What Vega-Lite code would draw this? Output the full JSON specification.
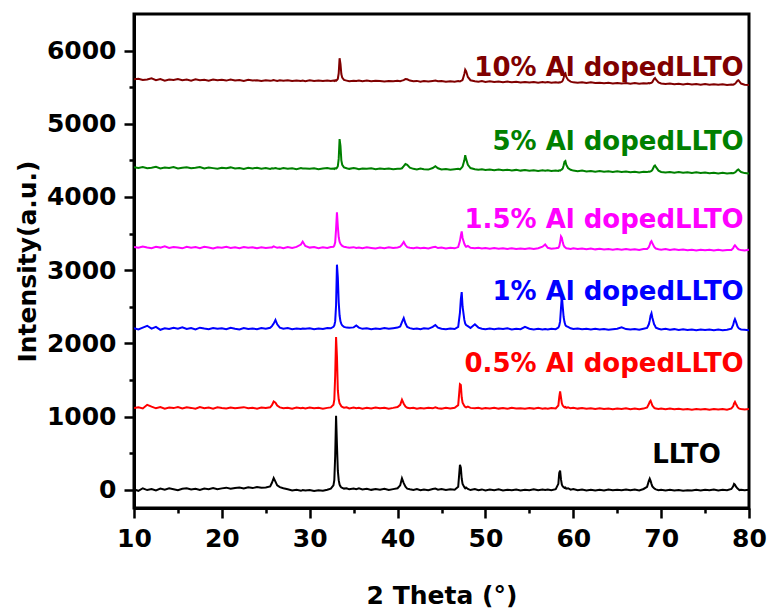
{
"$schema": "https://vega.github.io/schema/vega-lite/v6.json",
"width": 615, "height": 494,
"autosize": "none",
"padding": {"left": 134, "top": 14, "right": 20, "bottom": 107},
"background": "white",
"config": {
  "view": {"stroke": "black", "strokeWidth": 3},
  "font": "DejaVu Sans",
  "axis": {"grid": false, "domainColor": "black", "tickColor": "black", "labelColor": "black", "titleColor": "black", "labelFont": "DejaVu Sans", "titleFont": "DejaVu Sans", "labelFontWeight": "bold", "titleFontWeight": "bold", "labelFontSize": 25, "titleFontSize": 25}
},
"datasets": {
"xrd": [
{"x":10,"LLTO":5,"A05":1115,"A1":2205,"A15":3318,"A5":4405,"A10":5608},
{"x":10.5,"LLTO":-15,"A05":1125,"A1":2190,"A15":3305,"A5":4395,"A10":5615},
{"x":11,"LLTO":20,"A05":1110,"A1":2215,"A15":3322,"A5":4410,"A10":5598},
{"x":11.5,"LLTO":-5,"A05":1160,"A1":2240,"A15":3310,"A5":4392,"A10":5605},
{"x":12,"LLTO":10,"A05":1135,"A1":2200,"A15":3300,"A5":4400,"A10":5620},
{"x":12.5,"LLTO":-10,"A05":1112,"A1":2225,"A15":3318,"A5":4412,"A10":5596},
{"x":13,"LLTO":15,"A05":1128,"A1":2185,"A15":3308,"A5":4390,"A10":5610},
{"x":13.5,"LLTO":0,"A05":1108,"A1":2205,"A15":3325,"A5":4402,"A10":5590},
{"x":14,"LLTO":18,"A05":1122,"A1":2195,"A15":3302,"A5":4395,"A10":5605},
{"x":14.5,"LLTO":5,"A05":1115,"A1":2212,"A15":3316,"A5":4408,"A10":5598},
{"x":15,"LLTO":-8,"A05":1130,"A1":2200,"A15":3310,"A5":4388,"A10":5612},
{"x":15.5,"LLTO":12,"A05":1110,"A1":2218,"A15":3298,"A5":4400,"A10":5595},
{"x":16,"LLTO":20,"A05":1125,"A1":2196,"A15":3320,"A5":4406,"A10":5604},
{"x":16.5,"LLTO":2,"A05":1118,"A1":2208,"A15":3306,"A5":4392,"A10":5590},
{"x":17,"LLTO":14,"A05":1106,"A1":2190,"A15":3315,"A5":4398,"A10":5608},
{"x":17.5,"LLTO":-4,"A05":1128,"A1":2214,"A15":3300,"A5":4410,"A10":5596},
{"x":18,"LLTO":16,"A05":1114,"A1":2202,"A15":3318,"A5":4390,"A10":5602},
{"x":18.5,"LLTO":8,"A05":1122,"A1":2192,"A15":3310,"A5":4402,"A10":5588},
{"x":19,"LLTO":22,"A05":1108,"A1":2210,"A15":3296,"A5":4394,"A10":5606},
{"x":19.5,"LLTO":6,"A05":1126,"A1":2198,"A15":3314,"A5":4386,"A10":5594},
{"x":20,"LLTO":18,"A05":1116,"A1":2206,"A15":3305,"A5":4400,"A10":5600},
{"x":20.5,"LLTO":28,"A05":1110,"A1":2194,"A15":3318,"A5":4392,"A10":5590},
{"x":21,"LLTO":12,"A05":1124,"A1":2212,"A15":3302,"A5":4404,"A10":5604},
{"x":21.5,"LLTO":24,"A05":1112,"A1":2200,"A15":3312,"A5":4388,"A10":5592},
{"x":22,"LLTO":30,"A05":1120,"A1":2190,"A15":3300,"A5":4396,"A10":5598},
{"x":22.5,"LLTO":16,"A05":1128,"A1":2208,"A15":3316,"A5":4384,"A10":5586},
{"x":23,"LLTO":34,"A05":1114,"A1":2196,"A15":3306,"A5":4398,"A10":5600},
{"x":23.5,"LLTO":22,"A05":1120,"A1":2204,"A15":3312,"A5":4390,"A10":5590},
{"x":24,"LLTO":38,"A05":1108,"A1":2192,"A15":3298,"A5":4400,"A10":5596},
{"x":24.5,"LLTO":26,"A05":1124,"A1":2210,"A15":3314,"A5":4386,"A10":5584},
{"x":25,"LLTO":30,"A05":1116,"A1":2200,"A15":3304,"A5":4394,"A10":5594},
{"x":25.5,"LLTO":44,"A05":1126,"A1":2212,"A15":3310,"A5":4382,"A10":5588},
{"x":25.7,"LLTO":95,"A05":1155,"A1":2235,"A15":3310,"A5":4392,"A10":5592},
{"x":25.9,"LLTO":160,"A05":1205,"A1":2270,"A15":3325,"A5":4388,"A10":5598},
{"x":26.1,"LLTO":110,"A05":1190,"A1":2320,"A15":3315,"A5":4396,"A10":5590},
{"x":26.3,"LLTO":60,"A05":1150,"A1":2260,"A15":3306,"A5":4390,"A10":5586},
{"x":26.6,"LLTO":35,"A05":1125,"A1":2215,"A15":3312,"A5":4384,"A10":5594},
{"x":27,"LLTO":20,"A05":1112,"A1":2200,"A15":3300,"A5":4396,"A10":5588},
{"x":27.5,"LLTO":5,"A05":1120,"A1":2208,"A15":3316,"A5":4386,"A10":5596},
{"x":28,"LLTO":-10,"A05":1108,"A1":2194,"A15":3304,"A5":4392,"A10":5584},
{"x":28.5,"LLTO":0,"A05":1122,"A1":2204,"A15":3318,"A5":4380,"A10":5592},
{"x":29,"LLTO":-15,"A05":1112,"A1":2196,"A15":3350,"A5":4394,"A10":5586},
{"x":29.2,"LLTO":-5,"A05":1118,"A1":2202,"A15":3390,"A5":4388,"A10":5590},
{"x":29.5,"LLTO":-12,"A05":1110,"A1":2198,"A15":3330,"A5":4390,"A10":5582},
{"x":30,"LLTO":-5,"A05":1124,"A1":2206,"A15":3308,"A5":4384,"A10":5594},
{"x":30.5,"LLTO":-18,"A05":1114,"A1":2194,"A15":3316,"A5":4392,"A10":5586},
{"x":31,"LLTO":-8,"A05":1120,"A1":2204,"A15":3300,"A5":4380,"A10":5590},
{"x":31.5,"LLTO":-15,"A05":1108,"A1":2196,"A15":3312,"A5":4388,"A10":5584},
{"x":32,"LLTO":0,"A05":1118,"A1":2210,"A15":3304,"A5":4394,"A10":5592},
{"x":32.4,"LLTO":15,"A05":1125,"A1":2205,"A15":3315,"A5":4386,"A10":5586},
{"x":32.7,"LLTO":60,"A05":1160,"A1":2225,"A15":3320,"A5":4390,"A10":5592},
{"x":32.8,"LLTO":130,"A05":1230,"A1":2245,"A15":3335,"A5":4382,"A10":5584},
{"x":32.9,"LLTO":460,"A05":1560,"A1":2300,"A15":3380,"A5":4394,"A10":5594},
{"x":33.0,"LLTO":1010,"A05":2085,"A1":2520,"A15":3560,"A5":4388,"A10":5588},
{"x":33.1,"LLTO":610,"A05":1820,"A1":3075,"A15":3790,"A5":4398,"A10":5596},
{"x":33.2,"LLTO":260,"A05":1360,"A1":2900,"A15":3600,"A5":4420,"A10":5615},
{"x":33.3,"LLTO":130,"A05":1235,"A1":2560,"A15":3450,"A5":4520,"A10":5690},
{"x":33.4,"LLTO":70,"A05":1180,"A1":2380,"A15":3390,"A5":4790,"A10":5895},
{"x":33.5,"LLTO":45,"A05":1160,"A1":2300,"A15":3360,"A5":4700,"A10":5820},
{"x":33.6,"LLTO":30,"A05":1140,"A1":2265,"A15":3345,"A5":4500,"A10":5680},
{"x":33.7,"LLTO":25,"A05":1130,"A1":2245,"A15":3330,"A5":4440,"A10":5630},
{"x":33.9,"LLTO":15,"A05":1120,"A1":2225,"A15":3320,"A5":4405,"A10":5600},
{"x":34.2,"LLTO":20,"A05":1125,"A1":2215,"A15":3312,"A5":4392,"A10":5590},
{"x":34.5,"LLTO":5,"A05":1110,"A1":2212,"A15":3306,"A5":4384,"A10":5580},
{"x":35,"LLTO":15,"A05":1122,"A1":2218,"A15":3314,"A5":4394,"A10":5588},
{"x":35.3,"LLTO":8,"A05":1114,"A1":2245,"A15":3302,"A5":4388,"A10":5584},
{"x":35.6,"LLTO":18,"A05":1120,"A1":2215,"A15":3310,"A5":4380,"A10":5592},
{"x":36,"LLTO":4,"A05":1108,"A1":2198,"A15":3300,"A5":4390,"A10":5582},
{"x":36.5,"LLTO":14,"A05":1118,"A1":2206,"A15":3312,"A5":4384,"A10":5590},
{"x":37,"LLTO":-2,"A05":1110,"A1":2194,"A15":3304,"A5":4392,"A10":5580},
{"x":37.5,"LLTO":10,"A05":1124,"A1":2204,"A15":3296,"A5":4378,"A10":5588},
{"x":38,"LLTO":0,"A05":1114,"A1":2196,"A15":3308,"A5":4388,"A10":5584},
{"x":38.5,"LLTO":12,"A05":1120,"A1":2208,"A15":3300,"A5":4382,"A10":5578},
{"x":39,"LLTO":-4,"A05":1108,"A1":2198,"A15":3312,"A5":4390,"A10":5586},
{"x":39.5,"LLTO":8,"A05":1118,"A1":2206,"A15":3302,"A5":4380,"A10":5580},
{"x":40,"LLTO":20,"A05":1130,"A1":2215,"A15":3310,"A5":4386,"A10":5588},
{"x":40.3,"LLTO":60,"A05":1160,"A1":2230,"A15":3320,"A5":4384,"A10":5582},
{"x":40.5,"LLTO":155,"A05":1230,"A1":2290,"A15":3350,"A5":4392,"A10":5590},
{"x":40.7,"LLTO":90,"A05":1175,"A1":2345,"A15":3385,"A5":4420,"A10":5596},
{"x":40.9,"LLTO":40,"A05":1135,"A1":2270,"A15":3340,"A5":4450,"A10":5612},
{"x":41.1,"LLTO":15,"A05":1120,"A1":2225,"A15":3315,"A5":4440,"A10":5608},
{"x":41.4,"LLTO":5,"A05":1112,"A1":2208,"A15":3305,"A5":4400,"A10":5590},
{"x":41.8,"LLTO":-5,"A05":1120,"A1":2196,"A15":3298,"A5":4384,"A10":5580},
{"x":42.2,"LLTO":8,"A05":1108,"A1":2204,"A15":3310,"A5":4376,"A10":5586},
{"x":42.6,"LLTO":-8,"A05":1116,"A1":2194,"A15":3300,"A5":4388,"A10":5576},
{"x":43,"LLTO":4,"A05":1110,"A1":2206,"A15":3306,"A5":4380,"A10":5584},
{"x":43.5,"LLTO":-6,"A05":1120,"A1":2198,"A15":3296,"A5":4374,"A10":5578},
{"x":44,"LLTO":10,"A05":1112,"A1":2225,"A15":3312,"A5":4395,"A10":5586},
{"x":44.3,"LLTO":15,"A05":1125,"A1":2250,"A15":3318,"A5":4420,"A10":5590},
{"x":44.6,"LLTO":0,"A05":1114,"A1":2215,"A15":3302,"A5":4392,"A10":5580},
{"x":45,"LLTO":8,"A05":1108,"A1":2200,"A15":3308,"A5":4376,"A10":5584},
{"x":45.5,"LLTO":-4,"A05":1118,"A1":2192,"A15":3296,"A5":4382,"A10":5574},
{"x":46,"LLTO":6,"A05":1110,"A1":2204,"A15":3306,"A5":4372,"A10":5582},
{"x":46.5,"LLTO":0,"A05":1120,"A1":2196,"A15":3298,"A5":4380,"A10":5576},
{"x":46.9,"LLTO":40,"A05":1155,"A1":2225,"A15":3315,"A5":4384,"A10":5584},
{"x":47.1,"LLTO":340,"A05":1440,"A1":2420,"A15":3400,"A5":4376,"A10":5578},
{"x":47.2,"LLTO":300,"A05":1430,"A1":2600,"A15":3470,"A5":4388,"A10":5586},
{"x":47.3,"LLTO":150,"A05":1260,"A1":2700,"A15":3530,"A5":4400,"A10":5590},
{"x":47.4,"LLTO":80,"A05":1190,"A1":2500,"A15":3440,"A5":4415,"A10":5600},
{"x":47.6,"LLTO":35,"A05":1145,"A1":2320,"A15":3360,"A5":4500,"A10":5680},
{"x":47.7,"LLTO":20,"A05":1130,"A1":2270,"A15":3335,"A5":4570,"A10":5740},
{"x":47.8,"LLTO":30,"A05":1125,"A1":2250,"A15":3320,"A5":4520,"A10":5720},
{"x":48.0,"LLTO":10,"A05":1135,"A1":2235,"A15":3330,"A5":4440,"A10":5640},
{"x":48.3,"LLTO":-5,"A05":1118,"A1":2210,"A15":3305,"A5":4395,"A10":5595},
{"x":48.8,"LLTO":10,"A05":1112,"A1":2260,"A15":3298,"A5":4380,"A10":5582},
{"x":49.2,"LLTO":-8,"A05":1120,"A1":2215,"A15":3306,"A5":4372,"A10":5576},
{"x":49.6,"LLTO":4,"A05":1108,"A1":2200,"A15":3296,"A5":4378,"A10":5584},
{"x":50,"LLTO":-10,"A05":1116,"A1":2192,"A15":3304,"A5":4368,"A10":5572},
{"x":50.5,"LLTO":2,"A05":1110,"A1":2202,"A15":3294,"A5":4376,"A10":5580},
{"x":51,"LLTO":-6,"A05":1120,"A1":2194,"A15":3302,"A5":4366,"A10":5570},
{"x":51.5,"LLTO":6,"A05":1108,"A1":2204,"A15":3292,"A5":4374,"A10":5578},
{"x":52,"LLTO":-10,"A05":1116,"A1":2196,"A15":3300,"A5":4364,"A10":5568},
{"x":52.5,"LLTO":0,"A05":1106,"A1":2206,"A15":3290,"A5":4372,"A10":5576},
{"x":53,"LLTO":-8,"A05":1118,"A1":2190,"A15":3298,"A5":4362,"A10":5566},
{"x":53.5,"LLTO":4,"A05":1110,"A1":2200,"A15":3288,"A5":4370,"A10":5574},
{"x":54,"LLTO":-12,"A05":1114,"A1":2194,"A15":3296,"A5":4360,"A10":5564},
{"x":54.5,"LLTO":0,"A05":1106,"A1":2225,"A15":3290,"A5":4368,"A10":5572},
{"x":55,"LLTO":-6,"A05":1116,"A1":2200,"A15":3300,"A5":4358,"A10":5564},
{"x":55.5,"LLTO":6,"A05":1108,"A1":2190,"A15":3288,"A5":4366,"A10":5570},
{"x":56,"LLTO":-8,"A05":1118,"A1":2198,"A15":3300,"A5":4356,"A10":5562},
{"x":56.5,"LLTO":2,"A05":1106,"A1":2188,"A15":3320,"A5":4364,"A10":5570},
{"x":56.8,"LLTO":-4,"A05":1114,"A1":2196,"A15":3350,"A5":4358,"A10":5564},
{"x":57.1,"LLTO":4,"A05":1108,"A1":2190,"A15":3305,"A5":4366,"A10":5570},
{"x":57.5,"LLTO":-6,"A05":1116,"A1":2200,"A15":3292,"A5":4356,"A10":5562},
{"x":58,"LLTO":8,"A05":1110,"A1":2194,"A15":3298,"A5":4362,"A10":5568},
{"x":58.3,"LLTO":80,"A05":1150,"A1":2215,"A15":3305,"A5":4356,"A10":5562},
{"x":58.4,"LLTO":230,"A05":1260,"A1":2240,"A15":3325,"A5":4364,"A10":5568},
{"x":58.5,"LLTO":260,"A05":1345,"A1":2300,"A15":3380,"A5":4360,"A10":5564},
{"x":58.6,"LLTO":140,"A05":1260,"A1":2480,"A15":3460,"A5":4368,"A10":5570},
{"x":58.7,"LLTO":70,"A05":1180,"A1":2650,"A15":3440,"A5":4376,"A10":5574},
{"x":58.8,"LLTO":45,"A05":1150,"A1":2500,"A15":3380,"A5":4390,"A10":5590},
{"x":58.9,"LLTO":35,"A05":1135,"A1":2360,"A15":3340,"A5":4430,"A10":5625},
{"x":59.0,"LLTO":25,"A05":1125,"A1":2290,"A15":3320,"A5":4480,"A10":5680},
{"x":59.1,"LLTO":30,"A05":1130,"A1":2250,"A15":3310,"A5":4490,"A10":5690},
{"x":59.2,"LLTO":15,"A05":1118,"A1":2235,"A15":3300,"A5":4440,"A10":5640},
{"x":59.4,"LLTO":20,"A05":1126,"A1":2225,"A15":3296,"A5":4395,"A10":5600},
{"x":59.7,"LLTO":0,"A05":1112,"A1":2205,"A15":3290,"A5":4372,"A10":5576},
{"x":60,"LLTO":8,"A05":1118,"A1":2195,"A15":3300,"A5":4360,"A10":5566},
{"x":60.5,"LLTO":-8,"A05":1108,"A1":2202,"A15":3288,"A5":4352,"A10":5560},
{"x":61,"LLTO":2,"A05":1116,"A1":2192,"A15":3296,"A5":4360,"A10":5568},
{"x":61.5,"LLTO":-10,"A05":1106,"A1":2200,"A15":3286,"A5":4348,"A10":5558},
{"x":62,"LLTO":0,"A05":1114,"A1":2190,"A15":3294,"A5":4356,"A10":5566},
{"x":62.5,"LLTO":-12,"A05":1104,"A1":2198,"A15":3284,"A5":4346,"A10":5556},
{"x":63,"LLTO":-2,"A05":1112,"A1":2188,"A15":3292,"A5":4354,"A10":5562},
{"x":63.5,"LLTO":-10,"A05":1102,"A1":2196,"A15":3282,"A5":4344,"A10":5554},
{"x":64,"LLTO":2,"A05":1110,"A1":2186,"A15":3290,"A5":4352,"A10":5560},
{"x":64.5,"LLTO":-8,"A05":1100,"A1":2194,"A15":3280,"A5":4342,"A10":5552},
{"x":65,"LLTO":0,"A05":1110,"A1":2200,"A15":3288,"A5":4350,"A10":5558},
{"x":65.5,"LLTO":-6,"A05":1102,"A1":2220,"A15":3280,"A5":4340,"A10":5550},
{"x":66,"LLTO":4,"A05":1112,"A1":2195,"A15":3290,"A5":4348,"A10":5558},
{"x":66.5,"LLTO":-8,"A05":1100,"A1":2188,"A15":3278,"A5":4338,"A10":5548},
{"x":67,"LLTO":2,"A05":1108,"A1":2196,"A15":3286,"A5":4346,"A10":5556},
{"x":67.5,"LLTO":-10,"A05":1100,"A1":2186,"A15":3276,"A5":4336,"A10":5546},
{"x":68,"LLTO":10,"A05":1108,"A1":2200,"A15":3288,"A5":4344,"A10":5554},
{"x":68.4,"LLTO":40,"A05":1125,"A1":2210,"A15":3290,"A5":4340,"A10":5550},
{"x":68.6,"LLTO":120,"A05":1170,"A1":2260,"A15":3315,"A5":4348,"A10":5556},
{"x":68.7,"LLTO":150,"A05":1200,"A1":2310,"A15":3345,"A5":4344,"A10":5552},
{"x":68.8,"LLTO":120,"A05":1215,"A1":2380,"A15":3380,"A5":4350,"A10":5558},
{"x":68.9,"LLTO":80,"A05":1185,"A1":2410,"A15":3395,"A5":4356,"A10":5560},
{"x":69.0,"LLTO":45,"A05":1150,"A1":2350,"A15":3370,"A5":4370,"A10":5570},
{"x":69.2,"LLTO":20,"A05":1120,"A1":2260,"A15":3320,"A5":4420,"A10":5615},
{"x":69.3,"LLTO":10,"A05":1112,"A1":2240,"A15":3305,"A5":4430,"A10":5625},
{"x":69.4,"LLTO":5,"A05":1108,"A1":2215,"A15":3295,"A5":4410,"A10":5605},
{"x":69.7,"LLTO":-8,"A05":1104,"A1":2200,"A15":3285,"A5":4360,"A10":5565},
{"x":70,"LLTO":0,"A05":1110,"A1":2190,"A15":3280,"A5":4342,"A10":5550},
{"x":70.5,"LLTO":-10,"A05":1100,"A1":2198,"A15":3288,"A5":4334,"A10":5542},
{"x":71,"LLTO":-2,"A05":1108,"A1":2186,"A15":3276,"A5":4342,"A10":5550},
{"x":71.5,"LLTO":-12,"A05":1098,"A1":2194,"A15":3284,"A5":4332,"A10":5540},
{"x":72,"LLTO":-4,"A05":1106,"A1":2184,"A15":3274,"A5":4340,"A10":5548},
{"x":72.5,"LLTO":-14,"A05":1096,"A1":2192,"A15":3282,"A5":4330,"A10":5538},
{"x":73,"LLTO":-6,"A05":1104,"A1":2182,"A15":3272,"A5":4338,"A10":5546},
{"x":73.5,"LLTO":-12,"A05":1094,"A1":2190,"A15":3280,"A5":4328,"A10":5536},
{"x":74,"LLTO":-2,"A05":1102,"A1":2180,"A15":3270,"A5":4336,"A10":5544},
{"x":74.5,"LLTO":-10,"A05":1096,"A1":2190,"A15":3280,"A5":4326,"A10":5534},
{"x":75,"LLTO":0,"A05":1104,"A1":2182,"A15":3272,"A5":4334,"A10":5542},
{"x":75.5,"LLTO":-8,"A05":1094,"A1":2190,"A15":3280,"A5":4324,"A10":5532},
{"x":76,"LLTO":2,"A05":1102,"A1":2180,"A15":3270,"A5":4332,"A10":5540},
{"x":76.5,"LLTO":-10,"A05":1096,"A1":2188,"A15":3278,"A5":4322,"A10":5532},
{"x":77,"LLTO":-2,"A05":1104,"A1":2178,"A15":3268,"A5":4330,"A10":5540},
{"x":77.5,"LLTO":-8,"A05":1094,"A1":2186,"A15":3276,"A5":4320,"A10":5530},
{"x":78,"LLTO":10,"A05":1110,"A1":2200,"A15":3275,"A5":4328,"A10":5538},
{"x":78.2,"LLTO":45,"A05":1140,"A1":2250,"A15":3300,"A5":4324,"A10":5534},
{"x":78.3,"LLTO":80,"A05":1180,"A1":2300,"A15":3325,"A5":4330,"A10":5540},
{"x":78.4,"LLTO":70,"A05":1200,"A1":2330,"A15":3340,"A5":4336,"A10":5546},
{"x":78.5,"LLTO":45,"A05":1175,"A1":2300,"A15":3325,"A5":4345,"A10":5560},
{"x":78.7,"LLTO":15,"A05":1130,"A1":2230,"A15":3295,"A5":4370,"A10":5590},
{"x":78.8,"LLTO":5,"A05":1115,"A1":2210,"A15":3285,"A5":4375,"A10":5595},
{"x":78.9,"LLTO":-5,"A05":1108,"A1":2200,"A15":3280,"A5":4360,"A10":5580},
{"x":79.1,"LLTO":0,"A05":1102,"A1":2190,"A15":3275,"A5":4340,"A10":5550},
{"x":79.5,"LLTO":-8,"A05":1096,"A1":2186,"A15":3270,"A5":4326,"A10":5534},
{"x":80,"LLTO":-2,"A05":1104,"A1":2180,"A15":3278,"A5":4320,"A10":5530}
],
"labels": [
{"label":"10% Al dopedLLTO","series":"A10","x":79.4,"y":5650},
{"label":"5% Al dopedLLTO","series":"A5","x":79.4,"y":4640},
{"label":"1.5% Al dopedLLTO","series":"A15","x":79.4,"y":3570},
{"label":"1% Al dopedLLTO","series":"A1","x":79.4,"y":2590},
{"label":"0.5% Al dopedLLTO","series":"A05","x":79.4,"y":1610},
{"label":"LLTO","series":"LLTO","x":76.8,"y":360}
]
},
"layer": [
{
  "data": {"name": "xrd"},
  "transform": [{"fold": ["LLTO", "A05", "A1", "A15", "A5", "A10"], "as": ["series", "intensity"]}],
  "mark": {"type": "line", "strokeWidth": 2, "clip": true},
  "encoding": {
    "x": {"field": "x", "type": "quantitative", "scale": {"domain": [10, 80], "nice": false, "zero": false},
          "axis": {"orient": "bottom", "values": [10, 20, 30, 40, 50, 60, 70, 80], "format": "d", "tickSize": 10, "tickWidth": 2.5, "domainWidth": 3, "labelPadding": 8, "labelFlush": false, "labelOverlap": false, "title": "2 Theta (°)", "titlePadding": 32}},
    "y": {"field": "intensity", "type": "quantitative", "scale": {"domain": [-250, 6500], "nice": false, "zero": false},
          "axis": {"orient": "left", "values": [0, 1000, 2000, 3000, 4000, 5000, 6000], "format": "d", "tickSize": 10, "tickWidth": 2.5, "domainWidth": 3, "labelPadding": 8, "labelFlush": false, "labelOverlap": false, "title": "Intensity(a.u.)", "titlePadding": 6}},
    "color": {"field": "series", "type": "nominal", "scale": {"domain": ["LLTO", "A05", "A1", "A15", "A5", "A10"], "range": ["#000000", "#ff0000", "#0000ff", "#ff00ff", "#008000", "#800000"]}, "legend": null}
  }
},
{
  "data": {"name": "labels"},
  "mark": {"type": "text", "align": "right", "baseline": "alphabetic", "fontSize": 26, "fontWeight": "bold", "font": "DejaVu Sans"},
  "encoding": {
    "x": {"field": "x", "type": "quantitative", "axis": {"orient": "bottom", "values": [15, 25, 35, 45, 55, 65, 75], "tickSize": 5, "tickWidth": 2.5, "domain": false, "labels": false, "title": null}},
    "y": {"field": "y", "type": "quantitative", "axis": {"orient": "left", "values": [500, 1500, 2500, 3500, 4500, 5500], "tickSize": 5, "tickWidth": 2.5, "domain": false, "labels": false, "title": null}},
    "text": {"field": "label"},
    "color": {"field": "series", "type": "nominal", "legend": null}
  }
}
],
"resolve": {"axis": {"x": "independent", "y": "independent"}}
}
